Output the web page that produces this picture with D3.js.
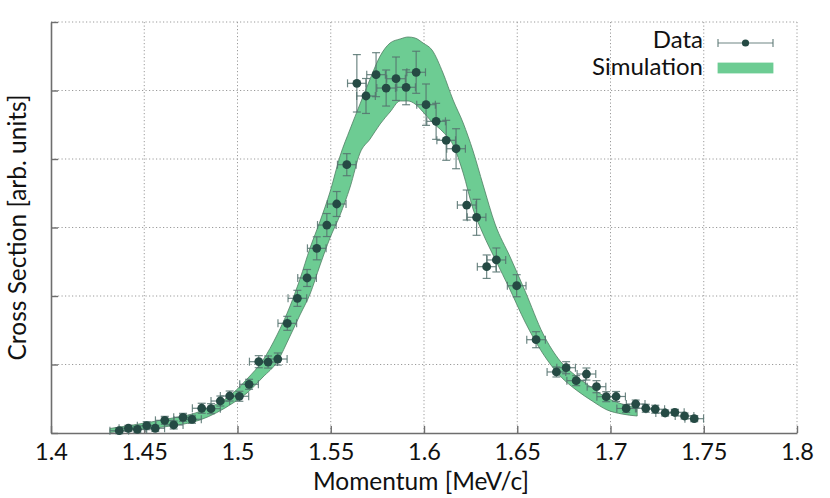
<!DOCTYPE html>
<html><head><meta charset="utf-8">
<script src="https://cdn.jsdelivr.net/npm/d3@7"></script>
<style>html,body{margin:0;padding:0;background:#fff;} text{font-family:Lato,"DejaVu Sans",sans-serif;}</style>
</head><body>
<svg id="chart" width="830" height="498"></svg>
<script>
// ---- data ----
const xTicks = [1.4,1.45,1.5,1.55,1.6,1.65,1.7,1.75,1.8];
const xTickLabels = ["1.4","1.45","1.5","1.55","1.6","1.65","1.7","1.75","1.8"];
const yTicks = [0,1,2,3,4,5,6];

const dataX = [1.4366,1.4415,1.4463,1.4513,1.4559,1.4610,1.4658,1.4708,1.4756,1.4808,
  1.4858,1.4908,1.4958,1.5010,1.5062,1.5114,1.5164,1.5216,1.5267,1.5321,
  1.5373,1.5425,1.5479,1.5532,1.5586,1.5640,1.5689,1.5743,1.5797,1.5850,
  1.5904,1.5958,1.6011,1.6065,1.6119,1.6172,1.6229,1.6282,1.6336,1.6388,
  1.6497,1.6601,1.6710,1.6762,1.6816,1.6871,1.6925,1.6977,1.7030,1.7084,
  1.7135,1.7189,1.7240,1.7293,1.7345,1.7397,1.7449];
const dataY = [0.034,0.069,0.054,0.107,0.069,0.185,0.117,0.229,0.200,0.361,
  0.355,0.467,0.540,0.536,0.711,1.041,1.036,1.080,1.601,1.966,
  2.263,2.696,3.036,3.343,3.917,5.105,4.920,5.231,5.036,5.172,
  5.047,5.266,4.793,4.550,4.273,4.150,3.328,3.149,2.428,2.526,
  2.150,1.362,0.891,0.953,0.764,0.861,0.676,0.530,0.533,0.358,
  0.423,0.361,0.347,0.292,0.302,0.248,0.209];
const dataYErr = [0.044,0.044,0.044,0.058,0.044,0.058,0.058,0.058,0.058,0.073,
  0.073,0.073,0.073,0.073,0.073,0.088,0.088,0.088,0.102,0.117,
  0.124,0.168,0.168,0.182,0.161,0.419,0.255,0.321,0.263,0.317,
  0.255,0.307,0.302,0.263,0.292,0.292,0.219,0.263,0.171,0.175,
  0.161,0.117,0.073,0.088,0.073,0.088,0.088,0.073,0.073,0.058,
  0.058,0.058,0.058,0.044,0.044,0.044,0.044];
const dataXErr = 0.005;

const simX = [1.4316,1.4440,1.4622,1.4799,1.4976,1.5051,1.5137,1.5212,1.5282,1.5335,
  1.5389,1.5443,1.5496,1.5550,1.5604,1.5657,1.5711,1.5765,1.5818,1.5872,
  1.5915,1.5952,1.5995,1.6043,1.6102,1.6156,1.6210,1.6263,1.6317,1.6381,
  1.6462,1.6542,1.6639,1.6730,1.6816,1.6902,1.6982,1.7062,1.7143];
const simHigh = [0.066,0.117,0.204,0.314,0.584,0.788,1.066,1.431,1.854,2.248,
  2.701,3.095,3.518,4.044,4.438,4.803,5.168,5.504,5.693,5.752,
  5.781,5.766,5.693,5.591,5.255,4.861,4.526,4.117,3.620,3.051,
  2.569,2.073,1.445,1.051,0.832,0.657,0.511,0.423,0.365];
const simLow = [0.007,0.044,0.095,0.190,0.438,0.584,0.818,1.036,1.416,1.723,
  2.029,2.453,2.847,3.182,3.591,4.088,4.292,4.511,4.686,4.847,
  4.847,4.803,4.686,4.540,4.394,4.204,3.796,3.270,2.905,2.540,
  2.088,1.620,1.153,0.832,0.628,0.467,0.336,0.277,0.248];

const legendLabels = ["Data","Simulation"];
const xTitle = "Momentum [MeV/c]";
const yTitle = "Cross Section [arb. units]";

// ---- drawing ----
const svg = d3.select("#chart");
const L = 51, R = 797, T = 22, B = 433;
const x = d3.scaleLinear().domain([1.4,1.8]).range([L,R]);
const y = d3.scaleLinear().domain([0,6]).range([B,T]);

const gridCol = "#9a9a9a", axisCol = "#6e6e6e";
const bandFill = "#6dcc93", bandStroke = "#4f7d63";
const ptCol = "#254a44", errCol = "#55726f";

// grid
const grid = svg.append("g");
grid.selectAll("line.v").data(xTicks.slice(1)).join("line")
  .attr("x1",d=>x(d)).attr("x2",d=>x(d)).attr("y1",T).attr("y2",B)
  .attr("stroke",gridCol).attr("stroke-width",1).attr("stroke-dasharray","1.2,2.3");
grid.selectAll("line.h").data(yTicks.slice(1)).join("line")
  .attr("y1",d=>y(d)).attr("y2",d=>y(d)).attr("x1",L).attr("x2",R)
  .attr("stroke",gridCol).attr("stroke-width",1).attr("stroke-dasharray","1.2,2.3");

// band
const simData = simX.map((v,i)=>({x:v,lo:simLow[i],hi:simHigh[i]}));
const area = d3.area().x(d=>x(d.x)).y0(d=>y(d.lo)).y1(d=>y(d.hi)).curve(d3.curveMonotoneX);
svg.append("path").datum(simData).attr("d",area)
  .attr("fill",bandFill).attr("stroke",bandStroke).attr("stroke-width",0.8);

// axes
const xAxis = d3.axisBottom(x).tickValues(xTicks).tickFormat((d,i)=>xTickLabels[i]).tickSizeInner(-7).tickSizeOuter(0).tickPadding(10);
const gx = svg.append("g").attr("transform",`translate(0,${B})`).call(xAxis);
const yAxis = d3.axisLeft(y).tickValues(yTicks).tickFormat("").tickSizeInner(-7).tickSizeOuter(0);
const gy = svg.append("g").attr("transform",`translate(${L},0)`).call(yAxis);
[gx,gy].forEach(g=>{
  g.select(".domain").attr("stroke",axisCol).attr("stroke-width",1.6);
  g.selectAll(".tick line").attr("stroke",axisCol).attr("stroke-width",1.4);
  g.selectAll(".tick text").attr("fill","#111").style("font-size","23.5px").style("font-family","Lato");
});

// data points with error bars
const pts = dataX.map((v,i)=>({x:v,y:dataY[i],e:dataYErr[i]}));
const eg = svg.append("g").attr("stroke",errCol).attr("stroke-width",1.2).attr("stroke-opacity",0.85);
const cap = 4;
pts.forEach(p=>{
  const cx=x(p.x), cy=y(p.y);
  const x0=x(p.x-dataXErr), x1=x(p.x+dataXErr), y0=y(p.y-p.e), y1=y(p.y+p.e);
  eg.append("line").attr("x1",x0).attr("x2",x1).attr("y1",cy).attr("y2",cy);
  eg.append("line").attr("x1",x0).attr("x2",x0).attr("y1",cy-cap).attr("y2",cy+cap);
  eg.append("line").attr("x1",x1).attr("x2",x1).attr("y1",cy-cap).attr("y2",cy+cap);
  eg.append("line").attr("x1",cx).attr("x2",cx).attr("y1",y0).attr("y2",y1);
  eg.append("line").attr("x1",cx-cap).attr("x2",cx+cap).attr("y1",y0).attr("y2",y0);
  eg.append("line").attr("x1",cx-cap).attr("x2",cx+cap).attr("y1",y1).attr("y2",y1);
});
svg.append("g").selectAll("circle").data(pts).join("circle")
  .attr("cx",d=>x(d.x)).attr("cy",d=>y(d.y)).attr("r",4.4).attr("fill",ptCol);

// axis titles
svg.append("text").attr("x",(L+R)/2-3).attr("y",490).attr("text-anchor","middle")
  .style("font-size","24.5px").attr("fill","#111").text(xTitle);
svg.append("text").attr("transform",`translate(26,${(T+B)/2}) rotate(-90)`).attr("text-anchor","middle")
  .style("font-size","24.5px").attr("fill","#111").text(yTitle);

// legend
const lg = svg.append("g");
lg.append("text").attr("x",703).attr("y",48).attr("text-anchor","end").style("font-size","24px").attr("fill","#111").text(legendLabels[0]);
lg.append("text").attr("x",703).attr("y",75).attr("text-anchor","end").style("font-size","24px").attr("fill","#111").text(legendLabels[1]);
const ly = 43;
const lge = lg.append("g").attr("stroke",errCol).attr("stroke-width",1.2).attr("stroke-opacity",0.85);
lge.append("line").attr("x1",718).attr("x2",773).attr("y1",ly).attr("y2",ly);
lge.append("line").attr("x1",718).attr("x2",718).attr("y1",ly-4).attr("y2",ly+4);
lge.append("line").attr("x1",773).attr("x2",773).attr("y1",ly-4).attr("y2",ly+4);
lg.append("circle").attr("cx",745.5).attr("cy",ly).attr("r",3.6).attr("fill",ptCol);
lg.append("rect").attr("x",718).attr("y",63).attr("width",55).attr("height",10)
  .attr("fill",bandFill).attr("stroke",bandFill).attr("stroke-width",0.8);
</script>
</body></html>
